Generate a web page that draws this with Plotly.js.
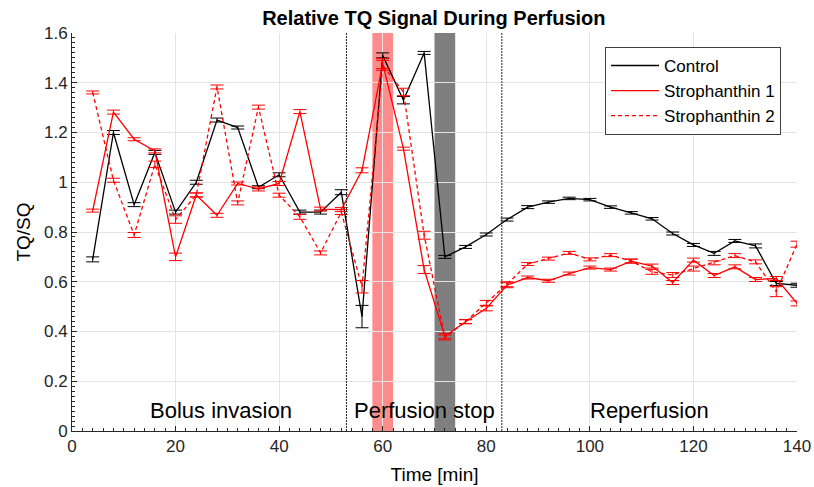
<!DOCTYPE html>
<html>
<head>
<meta charset="utf-8">
<script src="https://cdn.plot.ly/plotly-3.0.1.min.js"></script>
<style>html,body{margin:0;padding:0;background:#fff;}#chart{width:814px;height:487px;}</style>
</head>
<body>
<div id="chart"></div>
<script>
const time = [4,8,12,16,20,24,28,32,36,40,44,48,52,56,60,64,68,72,76,80,84,88,92,96,100,104,108,112,116,120,124,128,132,136,140];

const control = [0.69,1.20,0.91,1.12,0.88,1.00,1.25,1.22,0.98,1.03,0.88,0.88,0.96,0.46,1.51,1.33,1.52,0.70,0.74,0.79,0.85,0.90,0.92,0.935,0.93,0.90,0.877,0.853,0.794,0.748,0.714,0.764,0.744,0.593,0.586];
const controlErr = [0.01,0.008,0.008,0.008,0.008,0.008,0.008,0.006,0.006,0.008,0.008,0.008,0.01,0.045,0.01,0.015,0.006,0.006,0.006,0.006,0.006,0.006,0.005,0.005,0.005,0.005,0.005,0.005,0.006,0.006,0.008,0.006,0.008,0.008,0.008];

const stroph1 = [0.886,1.282,1.173,1.126,0.70,0.949,0.867,0.995,0.973,0.995,1.284,0.892,0.89,1.048,1.477,1.135,0.649,0.381,0.439,0.493,0.586,0.617,0.604,0.633,0.657,0.649,0.683,0.663,0.597,0.687,0.625,0.66,0.609,0.613,0.513];
const stroph1Err = [0.006,0.008,0.006,0.008,0.015,0.008,0.008,0.006,0.008,0.008,0.008,0.008,0.008,0.01,0.02,0.006,0.016,0.01,0.008,0.01,0.01,0.006,0.006,0.006,0.006,0.006,0.008,0.008,0.008,0.008,0.008,0.008,0.008,0.008,0.01];

const stroph2 = [1.361,1.008,0.788,1.072,0.85,0.949,1.383,0.917,1.302,0.948,0.861,0.716,0.88,0.58,1.47,1.363,0.787,0.376,0.44,0.515,0.59,0.671,0.693,0.716,0.69,0.707,0.683,0.64,0.627,0.653,0.676,0.705,0.68,0.56,0.751];
const stroph2Err = [0.006,0.008,0.01,0.013,0.015,0.008,0.008,0.008,0.008,0.008,0.01,0.008,0.01,0.025,0.02,0.015,0.016,0.01,0.008,0.01,0.01,0.006,0.006,0.006,0.006,0.006,0.008,0.01,0.01,0.01,0.008,0.008,0.008,0.02,0.012];

const bandRed = [58, 62];
const bandGray = [70, 74];
const phaseLines = [53, 83];
const phaseLabels = ["Bolus invasion", "Perfusion stop", "Reperfusion"];
const phaseLabelX = [28.7, 68, 111.6];

const font = "Liberation Sans, Arial, Helvetica, sans-serif";

function series(name, y, err, color, dash) {
  return {
    x: time, y: y, name: name, type: "scatter", mode: "lines",
    line: {color: color, width: 1.3, dash: dash},
    error_y: {type: "data", array: err, visible: true, color: color, thickness: 1, width: 6.5}
  };
}

const traces = [
  series("Control", control, controlErr, "#000000", "solid"),
  series("Strophanthin 1", stroph1, stroph1Err, "#ff0000", "solid"),
  series("Strophanthin 2", stroph2, stroph2Err, "#ff0000", "4px,3px")
];

const shapes = [
  {type: "rect", xref: "x", yref: "paper", x0: bandRed[0], x1: bandRed[1], y0: 0, y1: 1,
   fillcolor: "rgba(255,0,0,0.45)", line: {width: 0}, layer: "between"},
  {type: "rect", xref: "x", yref: "paper", x0: bandGray[0], x1: bandGray[1], y0: 0, y1: 1,
   fillcolor: "rgba(0,0,0,0.5)", line: {width: 0}, layer: "between"}
];
phaseLines.forEach(function (px) {
  shapes.push({type: "line", xref: "x", yref: "paper", x0: px, x1: px, y0: 0, y1: 1,
    line: {color: "#202020", width: 1, dash: "2px,1px"}});
});

const annotations = phaseLabels.map(function (t, i) {
  return {x: phaseLabelX[i], y: 0.082, xref: "x", yref: "y", text: t, showarrow: false,
    font: {family: font, size: 22, color: "#000"}, xanchor: "center", yanchor: "middle"};
});

const layout = {
  width: 814, height: 487,
  margin: {l: 72, r: 17, t: 33, b: 56},
  paper_bgcolor: "#fff", plot_bgcolor: "#fff",
  title: {text: "<b>Relative TQ Signal During Perfusion</b>", x: 0.533, xanchor: "center", y: 0.963, yanchor: "middle",
    font: {family: font, size: 20, color: "#000"}},
  xaxis: {
    range: [0, 140], dtick: 20, tick0: 0,
    showline: true, linecolor: "#262626", linewidth: 1,
    ticks: "inside", ticklen: 5, tickcolor: "#262626",
    minor: {ticks: "inside", dtick: 2, ticklen: 3, tickcolor: "#262626", showgrid: false},
    showgrid: true, gridcolor: "#e4e4e4", gridwidth: 1, zeroline: false,
    tickfont: {family: font, size: 17, color: "#262626"},
    title: {text: "Time [min]", font: {family: font, size: 19, color: "#000"}, standoff: 12}
  },
  yaxis: {
    range: [0, 1.6], dtick: 0.2, tick0: 0,
    showline: true, linecolor: "#262626", linewidth: 1,
    ticks: "inside", ticklen: 5, tickcolor: "#262626",
    minor: {ticks: "inside", dtick: 0.02, ticklen: 3, tickcolor: "#262626", showgrid: false},
    showgrid: true, gridcolor: "#e4e4e4", gridwidth: 1, zeroline: false,
    tickfont: {family: font, size: 17, color: "#262626"},
    title: {text: "TQ/SQ", font: {family: font, size: 19, color: "#000"}, standoff: 8}
  },
  legend: {
    x: 0.978, y: 0.965, xanchor: "right", yanchor: "top",
    bgcolor: "#fff", bordercolor: "#404040", borderwidth: 1,
    font: {family: font, size: 17, color: "#000"},
    itemwidth: 48,
    tracegroupgap: 0
  },
  shapes: shapes,
  annotations: annotations,
  showlegend: true
};

Plotly.newPlot("chart", traces, layout, {displayModeBar: false, staticPlot: true});
</script>
</body>
</html>
